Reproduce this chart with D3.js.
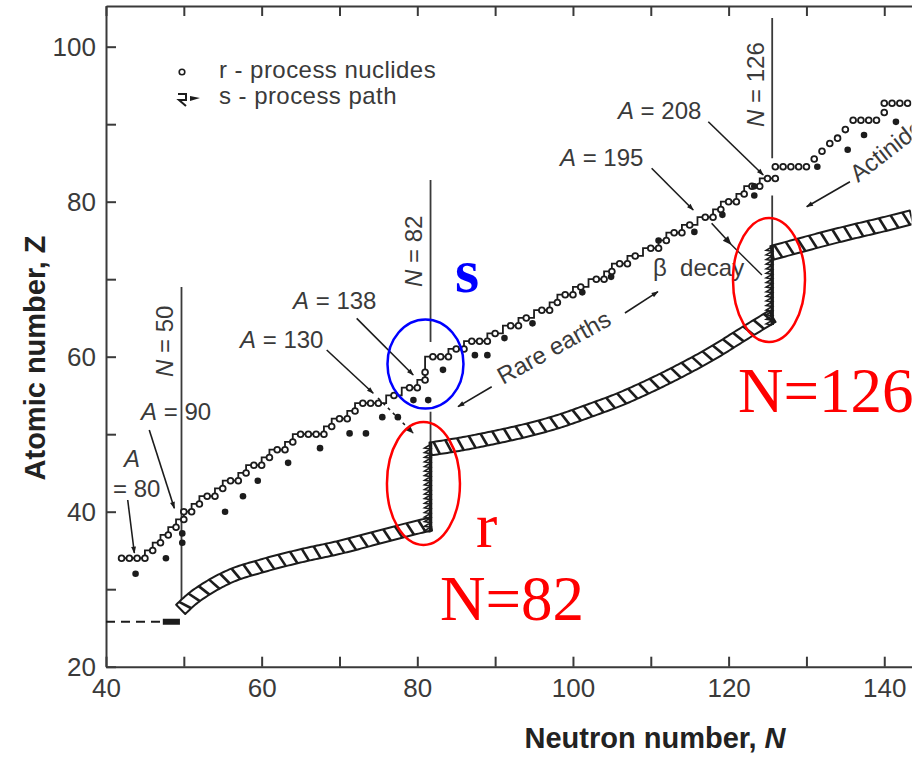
<!DOCTYPE html>
<html><head><meta charset="utf-8">
<script src="https://cdn.jsdelivr.net/npm/d3@7/dist/d3.min.js"></script>
<style>
html,body{margin:0;padding:0;background:#fff;}
svg{display:block;}
</style></head><body>
<svg id="chart" width="924" height="757" font-family="Liberation Sans, Arial, sans-serif"></svg>
<script>
// ---------------- data ----------------
const xTicks = [40,50,60,70,80,90,100,110,120,130,140];
const xTickLabels = {40:"40",60:"60",80:"80",100:"100",120:"120",140:"140"};
const yTicks = [20,30,40,50,60,70,80,90,100];
const yTickLabels = {20:"20",40:"40",60:"60",80:"80",100:"100"};

// s-process path (staircase): Z of each horizontal run and the N where it ends
const sPathStartN = 42;
const sPathZ = [34,35,36,37,38,39,40,41,42,43,44,45,46,47,48,49,50,51,52,53,54,55,56,57,58,59,60,61,62,63,64,65,66,67,68,69,70,71,72,73,74,75,76,77,78,79,80,81,82,83];
const sPathEndN = [45,46,47,48,49,50,51,52,54,55,57,58,60,61,63,64,68,69,71,72,76,78,80,81,81,81,84,86,89,91,93,95,97,98,100,102,104,105,107,109,111,112,114,116,118,119,121,122,124,126];

// r-process nuclides [N, Z]
const rOpen = [[42,34],[43,34],[44,34],[45,34],[46,35],[47,36],[48,37],[49,38],[50,39],[50,40],[51,40],[52,41],[53,42],[54,42],[55,43],[56,44],[57,44],[58,45],[59,46],[60,46],[61,47],[62,48],[63,48],[64,49],[65,50],[66,50],[67,50],[68,50],[69,51],[70,52],[71,52],[72,53],[73,54],[74,54],[75,54],[77,55],[79,56],[80,56],[81,57],[81,58],[82,60],[83,60],[84,60],[85,61],[86,61],[87,62],[88,62],[89,62],[90,63],[92,64],[93,64],[94,65],[96,66],[97,66],[98,67],[99,68],[100,68],[101,69],[103,70],[104,70],[105,71],[106,72],[107,72],[108,73],[110,74],[111,74],[112,75],[113,76],[114,76],[115,77],[117,78],[118,78],[119,79],[120,80],[121,80],[122,81],[123,82],[124,82],[125,83],[126,83],
  [126,84.5],[127,84.5],[128,84.5],[129,84.5],[130,84.5],[131,85.5],[132,86.5],[133,87.5],[134,88.2],[135,89.3],[136,90.5],[137,90.5],[138,90.5],[139,90.5],[140,91.5],[140,92.7],[141,92.7],[142,92.7],[143,92.7]];
const rFilled = [[43.8,32],[47.7,34],[49.8,36],[49.8,37.2],[55.3,40],[57.6,42],[59.5,44],[63.4,46.3],[67.5,48.2],[71.3,50.1],[73.4,50.1],[75.5,52.2],[77.5,52.2],[79.5,54.4],[81.4,54.4],[83.3,58.3],[87.4,60.2],[89,60.2],[91.2,62.4],[94.8,64.3],[101.2,68.3],[104.9,70.3],[111,75],[115.6,76.1],[119.2,78.3],[123.3,80.8],[123.3,82],[131.4,84.5],[135.3,86.7],[137.4,88.6],[141.5,90.3]];

// r-process path (hatched band), centre line
const band1N = [49.6,51,53,56,60,65,70,75,80,81.7];
const band1Z = [27.4,28.7,30.1,31.7,33.0,34.3,35.4,36.7,38.0,38.4];
const band2N = [81.7,86,90,94,98,102,106,110,114,118,122,125.6];
const band2Z = [48.1,48.8,49.6,50.5,51.6,53.0,54.5,56.3,58.3,60.5,63.0,65.2];
const band3N = [125.6,130,135,140,143.5];
const band3Z = [73.4,74.6,75.9,77.1,78.0];
// waiting points (vertical r-process segments)
const waitN = [81.7,125.6];
const waitZLow = [37.4,64.1];
const waitZHigh = [48.9,74.3];
// seed (Fe)
const seedZ = 25.8;
const seedDashN = [40,47.3];
const seedBlobN = [47.3,49.5];
// magic neutron numbers: labels and the read positions of the lines
const magicLabels = ["N = 50","N = 82","N = 126"];
const magicLineN = [49.7,81.7,125.6];
const magicLineSegs = [[[28.6,69.0]],[[48.6,52.9],[61.9,82.8]],[[73.8,80.8],[85.6,103.7]]];

// ---------------- setup ----------------
const svg = d3.select("#chart");
const x = d3.scaleLinear().domain([40,143.5]).range([106,911.5]);
const y = d3.scaleLinear().domain([20,105.25]).range([666.7,6]);
const ink = "#1c1c1c", grey = "#3a3a3a";
const sans = "Liberation Sans, Arial, sans-serif";
const serif = "Liberation Serif, Times New Roman, serif";

const defs = svg.append("defs");
defs.append("clipPath").attr("id","plotclip")
  .append("rect").attr("x",x(40)).attr("y",y(105.25)).attr("width",x(143.5)-x(40)).attr("height",y(20)-y(105.25));
defs.append("marker").attr("id","arr").attr("viewBox","0 0 10 10").attr("refX",9).attr("refY",5)
  .attr("markerWidth",8).attr("markerHeight",7).attr("markerUnits","userSpaceOnUse").attr("orient","auto")
  .append("path").attr("d","M0,1.5 L10,5 L0,8.5 Z").attr("fill",ink);
defs.append("marker").attr("id","arrBig").attr("viewBox","0 0 10 10").attr("refX",9).attr("refY",5)
  .attr("markerWidth",11).attr("markerHeight",9).attr("markerUnits","userSpaceOnUse").attr("orient","auto")
  .append("path").attr("d","M0,1 L10,5 L0,9 Z").attr("fill",ink);

// ---------------- axes ----------------
const axisStyle = g => {
  g.attr("font-family",sans);
  g.select(".domain").attr("stroke",grey).attr("stroke-width",2);
  g.selectAll(".tick line").attr("stroke",grey).attr("stroke-width",2);
  g.selectAll(".tick text").attr("fill",grey).attr("font-size",26);
};
svg.append("g").attr("transform",`translate(0,${y(20)})`)
  .call(d3.axisBottom(x).tickValues(xTicks).tickSize(-10).tickSizeOuter(0).tickPadding(12).tickFormat(d=>xTickLabels[d]||""))
  .call(axisStyle);
svg.append("g").attr("transform",`translate(0,${y(105.25)})`)
  .call(d3.axisTop(x).tickValues(xTicks).tickSize(-10).tickSizeOuter(0).tickFormat(""))
  .call(axisStyle);
svg.append("g").attr("transform",`translate(${x(40)},0)`)
  .call(d3.axisLeft(y).tickValues(yTicks).tickSize(-10).tickSizeOuter(0).tickPadding(10).tickFormat(d=>yTickLabels[d]||""))
  .call(axisStyle);

svg.append("text").attr("transform","translate(45,358) rotate(-90)").attr("text-anchor","middle")
  .attr("font-size",29).attr("font-weight","bold").attr("fill","#222")
  .text("Atomic number, Z");
const xt = svg.append("text").attr("x",655).attr("y",748).attr("text-anchor","middle")
  .attr("font-size",29).attr("font-weight","bold").attr("fill","#222");
xt.append("tspan").text("Neutron number, ");
xt.append("tspan").attr("font-style","italic").text("N");

// ---------------- plot ----------------
const plot = svg.append("g").attr("clip-path","url(#plotclip)");

// magic lines
magicLineN.forEach((n,i)=>{
  magicLineSegs[i].forEach(s=>{
    plot.append("line").attr("x1",x(n)).attr("x2",x(n)).attr("y1",y(s[0])).attr("y2",y(s[1]))
      .attr("stroke",grey).attr("stroke-width",1.8);
  });
});

// seed
plot.append("line").attr("x1",x(seedDashN[0])).attr("x2",x(seedDashN[1])).attr("y1",y(seedZ)).attr("y2",y(seedZ))
  .attr("stroke",ink).attr("stroke-width",2).attr("stroke-dasharray","9,6");
plot.append("line").attr("x1",x(seedBlobN[0])).attr("x2",x(seedBlobN[1])).attr("y1",y(seedZ)).attr("y2",y(seedZ))
  .attr("stroke",ink).attr("stroke-width",6);

// hatched bands
function drawBand(Ns, Zs, h){
  const pts = Ns.map((n,i)=>[x(n),y(Zs[i])]);
  const tmp = plot.append("path").attr("d",d3.line().curve(d3.curveMonotoneX)(pts)).attr("fill","none");
  const node = tmp.node(), L = node.getTotalLength();
  const at = s => {
    s = Math.max(0,Math.min(L,s));
    const p = node.getPointAtLength(s), a = node.getPointAtLength(Math.max(0,s-0.6)), b = node.getPointAtLength(Math.min(L,s+0.6));
    let tx=b.x-a.x, ty=b.y-a.y; const m=Math.hypot(tx,ty)||1; tx/=m; ty/=m;
    return {x:p.x,y:p.y,nx:ty,ny:-tx};
  };
  const n = Math.ceil(L/2);
  const samp = d3.range(n+1).map(i=>at(i*L/n));
  const up = samp.map(d=>[d.x+d.nx*h,d.y+d.ny*h]);
  const lo = samp.map(d=>[d.x-d.nx*h,d.y-d.ny*h]);
  tmp.remove();
  const g = plot.append("g");
  g.append("path").attr("d",d3.line()(up.concat(lo.slice().reverse()))+"Z")
    .attr("fill","#fff").attr("stroke",ink).attr("stroke-width",2).attr("stroke-linejoin","round");
  for(let s=4; s<L-2; s+=12){
    const a = at(s), b = at(s+4.5);
    g.append("line").attr("x1",a.x+a.nx*h).attr("y1",a.y+a.ny*h).attr("x2",b.x-b.nx*h).attr("y2",b.y-b.ny*h)
      .attr("stroke",ink).attr("stroke-width",2.6);
  }
}
drawBand(band1N,band1Z,6.5);
drawBand(band2N,band2Z,6.5);
drawBand(band3N,band3Z,7);

// waiting point verticals with sawtooth
waitN.forEach((n,i)=>{
  const x0=x(n), yb=y(waitZLow[i]), yt=y(waitZHigh[i]);
  let d=`M${x0},${yb}`;
  for(let yy=yb; yy>yt+3; yy-=4.6){ d+=`L${x0-6},${yy-1}L${x0},${yy-4.6}`; }
  plot.append("path").attr("d",d).attr("fill","none").attr("stroke",ink).attr("stroke-width",1.6);
  plot.append("line").attr("x1",x0).attr("x2",x0).attr("y1",yb).attr("y2",yt).attr("stroke",ink).attr("stroke-width",3.5);
});

// s-process staircase path
const sVerts = [[sPathStartN,sPathZ[0]]];
sPathZ.forEach((z,i)=>{
  sVerts.push([sPathEndN[i],z]);
  if(i<sPathZ.length-1) sVerts.push([sPathEndN[i],sPathZ[i+1]]);
});
plot.append("path").attr("d",d3.line().x(d=>x(d[0])).y(d=>y(d[1]))(sVerts))
  .attr("fill","none").attr("stroke",ink).attr("stroke-width",1.8);

// r-process nuclides
plot.selectAll("circle.ro").data(rOpen).join("circle").attr("class","ro")
  .attr("cx",d=>x(d[0])).attr("cy",d=>y(d[1])).attr("r",2.9)
  .attr("fill","#fff").attr("stroke",ink).attr("stroke-width",1.8);
plot.selectAll("circle.rf").data(rFilled).join("circle").attr("class","rf")
  .attr("cx",d=>x(d[0])).attr("cy",d=>y(d[1])).attr("r",3.3).attr("fill",ink);

// ---------------- annotations ----------------
const arrows = [
  {from:[42.79,41.51],to:[43.64,34.67]},
  {from:[45.56,50.54],to:[48.78,40.44]},
  {from:[68.36,60.86],to:[74.34,55.28]},
  {from:[74.95,54.67],to:[79.44,50.16],dash:"3,4",big:true},
  {from:[72.21,64.95],to:[79.48,57.64]},
  {from:[110.11,84.31],to:[115.46,78.93]},
  {from:[117.39,90.32],to:[124.45,83.45]},
  {from:[117.82,77.21],to:[120.3,74.5],big:true},
  {from:[89.56,56.13],to:[85.23,53.55]},
  {from:[106.68,65.64],to:[110.92,68.39]},
  {from:[135.59,82.58],to:[130.03,79.35]}
];
arrows.forEach(a=>{
  plot.append("line").attr("x1",x(a.from[0])).attr("y1",y(a.from[1])).attr("x2",x(a.to[0])).attr("y2",y(a.to[1]))
    .attr("stroke",ink).attr("stroke-width",1.6).attr("stroke-dasharray",a.dash||null)
    .attr("marker-end",a.big?"url(#arrBig)":"url(#arr)");
});
// continuation of beta decay line
plot.append("line").attr("x1",x(120.3)).attr("y1",y(74.5)).attr("x2",x(124.28)).attr("y2",y(70.54))
  .attr("stroke",ink).attr("stroke-width",1.4);

const annoFont = 24;
function aLabel(N,Z,num){
  const t = plot.append("text").attr("x",x(N)).attr("y",y(Z)).attr("font-size",annoFont).attr("fill",grey);
  t.append("tspan").attr("font-style","italic").text("A");
  t.append("tspan").text(" = "+num);
}
aLabel(105.78,90.66,"208");
aLabel(98.33,84.61,"195");
aLabel(64.03,66.15,"138");
aLabel(57.22,61.12,"130");
aLabel(44.5,51.83,"90");
plot.append("text").attr("x",x(42.31)).attr("y",y(45.77)).attr("font-size",annoFont).attr("fill",grey).attr("font-style","italic").text("A");
plot.append("text").attr("x",x(40.9)).attr("y",y(41.9)).attr("font-size",annoFont).attr("fill",grey).text("= 80");

const magicPos = [[48.61,57.38],[80.6,69.0],[124.54,89.64]];
magicLabels.forEach((lab,i)=>{
  const t = plot.append("text").attr("transform",`translate(${x(magicPos[i][0])},${y(magicPos[i][1])}) rotate(-90)`)
    .attr("font-size",annoFont).attr("fill",grey);
  t.append("tspan").attr("font-style","italic").text(lab.slice(0,1));
  t.append("tspan").text(lab.slice(1));
});
plot.append("text").attr("x",x(110.28)).attr("y",y(70.4)).attr("font-size",annoFont).attr("fill",grey)
  .attr("xml:space","preserve").text("β  decay");
plot.append("text").attr("transform",`translate(${x(91.01)},${y(56.35)}) rotate(-29)`).attr("font-size",annoFont).attr("fill",grey).text("Rare earths");
plot.append("text").attr("transform",`translate(${x(136.62)},${y(82.4)}) rotate(-38)`).attr("font-size",annoFont).attr("fill",grey).text("Actinides");

// legend
const leg = svg.append("g");
leg.append("circle").attr("cx",182).attr("cy",72).attr("r",2.8).attr("fill","#fff").attr("stroke",ink).attr("stroke-width",1.6);
leg.append("text").attr("x",219).attr("y",78).attr("font-size",24).attr("letter-spacing",0.45).attr("fill",grey).text("r - process nuclides");
leg.append("path").attr("d","M178,94 L186,94 L186,100 L179,100 L186,106").attr("fill","none").attr("stroke",ink).attr("stroke-width",2);
leg.append("path").attr("d","M190,96 L200,98 L190,101 Z").attr("fill",ink);
leg.append("text").attr("x",219).attr("y",104).attr("font-size",24).attr("letter-spacing",0.45).attr("fill",grey).text("s - process path");

// ---------------- overlay highlights ----------------
const ov = svg.append("g");
[[80.79,43.64,36.5,61.5,"#ff0000"],[125.19,69.9,36,62,"#ff0000"],[81.05,59.06,38,44.5,"#0000ff"]].forEach(e=>{
  ov.append("ellipse").attr("cx",x(e[0])).attr("cy",y(e[1])).attr("rx",e[2]).attr("ry",e[3])
    .attr("fill","none").attr("stroke",e[4]).attr("stroke-width",2.5);
});
ov.append("text").attr("x",x(121.2)).attr("y",y(52.86)).attr("font-family",serif).attr("font-size",63).attr("fill","#ff0000").text("N=126");
ov.append("text").attr("x",x(82.91)).attr("y",y(26.03)).attr("font-family",serif).attr("font-size",63).attr("fill","#ff0000").text("N=82");
ov.append("text").attr("x",x(87.54)).attr("y",y(35.45)).attr("font-family",serif).attr("font-size",64).attr("fill","#ff0000").text("r");
ov.append("text").attr("x",x(84.84)).attr("y",y(68.35)).attr("font-family",serif).attr("font-size",62).attr("font-weight","bold").attr("fill","#0000ff").text("s");
</script></body></html>
